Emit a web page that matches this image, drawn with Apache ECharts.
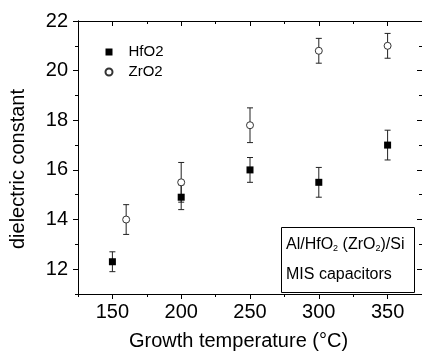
<!DOCTYPE html>
<html>
<head>
<meta charset="utf-8">
<script src="https://cdn.jsdelivr.net/npm/echarts@6/dist/echarts.min.js"></script>
<style>
  html, body { margin: 0; padding: 0; background: #fff; }
  #chart { width: 422px; height: 356px; }
</style>
</head>
<body>
<div id="chart"></div>
<script>
// Dielectric constant of HfO2 and ZrO2 films versus growth temperature
const hfTemp = [150, 200, 250, 300, 350];
const hfK    = [12.3, 14.9, 16.0, 15.5, 17.0];
const hfErr  = [0.4, 0.5, 0.5, 0.6, 0.6];

const zrTemp = [160, 200, 250, 300, 350];
const zrK    = [14.0, 15.5, 17.8, 20.8, 21.0];
const zrErr  = [0.6, 0.8, 0.7, 0.5, 0.5];

const xMajor = [150, 200, 250, 300, 350];
const xMinor = [125, 175, 225, 275, 325, 375];
const yMajor = [12, 14, 16, 18, 20, 22];
const yMinor = [11, 13, 15, 17, 19, 21];

const FONT = "'Liberation Sans', Arial, sans-serif";
const INK = '#000';

const chart = echarts.init(document.getElementById('chart'));

function rows(xs, ys, es) {
  return xs.map((x, i) => [x, ys[i], es[i]]);
}

// vertical error bar with short caps
function errorBar(params, api) {
  const x = api.value(0), y = api.value(1), e = api.value(2);
  const hi = api.coord([x, y + e]);
  const lo = api.coord([x, y - e]);
  const cap = 3;
  const st = { stroke: '#222', lineWidth: 1 };
  return {
    type: 'group',
    children: [
      { type: 'line', shape: { x1: hi[0], y1: hi[1], x2: lo[0], y2: lo[1] }, style: st },
      { type: 'line', shape: { x1: hi[0] - cap, y1: hi[1], x2: hi[0] + cap, y2: hi[1] }, style: st },
      { type: 'line', shape: { x1: lo[0] - cap, y1: lo[1], x2: lo[0] + cap, y2: lo[1] }, style: st }
    ]
  };
}

function xAx(pos, ticks, len, inside, withLabels) {
  const a = {
    type: 'value', position: pos, min: 125, max: 375,
    axisLine: { show: true, lineStyle: { color: INK, width: 1 } },
    axisTick: { show: true, inside: inside, length: len, customValues: ticks, lineStyle: { color: INK, width: 1 } },
    axisLabel: { show: false },
    splitLine: { show: false }
  };
  if (withLabels) {
    a.axisLabel = { show: true, customValues: ticks, color: INK, fontSize: 20, fontFamily: FONT, margin: 8 };
    a.name = 'Growth temperature (\u00b0C)';
    a.nameLocation = 'middle';
    a.nameGap = 37;
    a.nameTextStyle = { color: INK, fontSize: 20, fontFamily: FONT, padding: [0, 23, 0, 0] };
  }
  return a;
}

function yAx(pos, ticks, len, inside, withLabels) {
  const a = {
    type: 'value', position: pos, min: 11, max: 22,
    axisLine: { show: true, lineStyle: { color: INK, width: 1 } },
    axisTick: { show: true, inside: inside, length: len, customValues: ticks, lineStyle: { color: INK, width: 1 } },
    axisLabel: { show: false },
    splitLine: { show: false }
  };
  if (withLabels) {
    a.axisLabel = { show: true, customValues: ticks, color: INK, fontSize: 20, fontFamily: FONT, margin: 10 };
    a.name = 'dielectric constant';
    a.nameLocation = 'middle';
    a.nameGap = 50;
    a.nameTextStyle = { color: INK, fontSize: 20, fontFamily: FONT, padding: [0, 23, 0, 0] };
  }
  return a;
}

chart.setOption({
  animation: false,
  backgroundColor: '#fff',
  grid: { left: 78, top: 21, right: -3, bottom: 59, containLabel: false },
  xAxis: [
    xAx('bottom', xMajor, 5, false, true),
    xAx('bottom', xMinor, 3, false, false),
    xAx('top', xMajor, 5, true, false),
    xAx('top', xMinor, 3, true, false)
  ],
  yAxis: [
    yAx('left', yMajor, 5, false, true),
    yAx('left', yMinor, 3, false, false),
    yAx('right', yMajor, 5, true, false),
    yAx('right', yMinor, 3, true, false)
  ],
  legend: {
    orient: 'vertical', left: 104.5, top: 44.5, padding: 0,
    itemWidth: 7, itemHeight: 7, itemGap: 5,
    textStyle: { color: INK, fontSize: 15, fontFamily: FONT, padding: [0, 0, 0, 11] },
    data: ['HfO2', 'ZrO2']
  },
  series: [
    { name: 'HfO2 error', type: 'custom', z: 1, data: rows(hfTemp, hfK, hfErr), renderItem: errorBar, encode: { x: 0, y: 1 } },
    { name: 'ZrO2 error', type: 'custom', z: 1, data: rows(zrTemp, zrK, zrErr), renderItem: errorBar, encode: { x: 0, y: 1 } },
    {
      name: 'HfO2', type: 'scatter', z: 3, symbol: 'rect', symbolSize: 7,
      itemStyle: { color: '#000', opacity: 1 },
      data: hfTemp.map((x, i) => [x, hfK[i]])
    },
    {
      name: 'ZrO2', type: 'scatter', z: 3, symbol: 'circle', symbolSize: 7,
      itemStyle: { color: '#fff', borderColor: '#333', borderWidth: 1, opacity: 1 },
      data: zrTemp.map((x, i) => [x, zrK[i]])
    }
  ],
  graphic: [
    {
      type: 'rect', z: 10,
      shape: { x: 281.5, y: 227.5, width: 133, height: 65 },
      style: { fill: '#fff', stroke: INK, lineWidth: 1 }
    },
    {
      type: 'text', z: 11, x: 286, y: 237,
      style: {
        text: '{n|Al/HfO}{s|2}{n| (ZrO}{s|2}{n|)/Si}',
        fill: INK,
        rich: {
          n: { fontSize: 16, fontFamily: FONT, lineHeight: 16, verticalAlign: 'top', fill: INK },
          s: { fontSize: 9, fontFamily: FONT, lineHeight: 9, padding: [12, 0, 0, 0], verticalAlign: 'bottom', fill: INK }
        }
      }
    },
    {
      type: 'text', z: 11, x: 286, y: 267,
      style: { text: 'MIS capacitors', fill: INK, font: '16px ' + FONT }
    }
  ]
});
</script>
</body>
</html>
